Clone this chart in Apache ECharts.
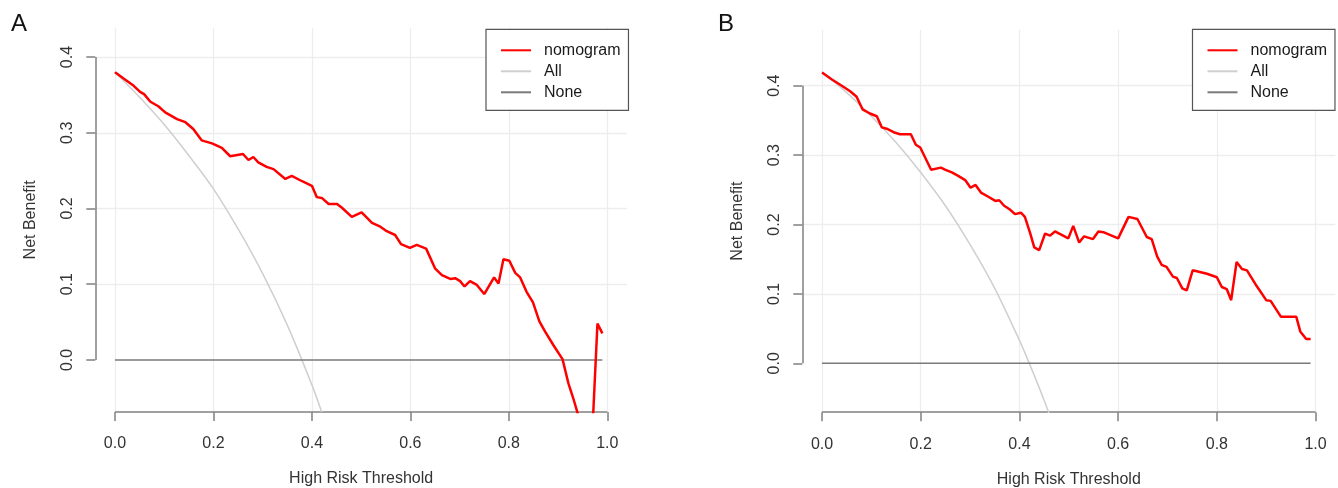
<!DOCTYPE html>
<html>
<head>
<meta charset="utf-8">
<script src="https://cdn.jsdelivr.net/npm/echarts@6/dist/echarts.min.js"></script>
<style>
  html, body { margin: 0; padding: 0; background: #fff; }
  #dca { width: 1338px; height: 488px; }
</style>
</head>
<body>
<div id="dca"></div>
<script>
// tick labels
const xTicks = [0, 0.2, 0.4, 0.6, 0.8, 1.0];
const yTicks = [0, 0.1, 0.2, 0.3, 0.4];

// panel A
const thrA = [0, 0.021, 0.038, 0.051, 0.059, 0.072, 0.088, 0.102, 0.126, 0.143,
  0.159, 0.176, 0.197, 0.217, 0.234, 0.26, 0.271, 0.281, 0.291, 0.308,
  0.322, 0.346, 0.359, 0.38, 0.40, 0.41, 0.42, 0.434, 0.451, 0.461,
  0.481, 0.501, 0.522, 0.539, 0.552, 0.569, 0.581, 0.599, 0.613, 0.632,
  0.650, 0.664, 0.681, 0.691, 0.701, 0.710, 0.721, 0.735, 0.750, 0.770,
  0.779, 0.789, 0.801, 0.813, 0.823, 0.836, 0.849, 0.862, 0.874, 0.890,
  0.909, 0.921, 0.931, 0.94, 0.95, 0.96, 0.97, 0.98, 0.99];
const nomogramA = [0.380, 0.370, 0.362, 0.354, 0.351, 0.341, 0.335, 0.327, 0.318, 0.314,
  0.305, 0.290, 0.286, 0.280, 0.269, 0.272, 0.264, 0.268, 0.261, 0.255,
  0.252, 0.239, 0.243, 0.236, 0.230, 0.215, 0.214, 0.206, 0.206, 0.201,
  0.189, 0.195, 0.181, 0.176, 0.170, 0.165, 0.153, 0.148, 0.152, 0.147,
  0.121, 0.112, 0.107, 0.108, 0.104, 0.097, 0.104, 0.099, 0.087, 0.109,
  0.101, 0.133, 0.131, 0.115, 0.109, 0.090, 0.076, 0.051, 0.037, 0.020,
  0.001, -0.031, -0.051, -0.071, -0.12, -0.14, -0.09, 0.048, 0.035];
const allThrA = [0, 0.05, 0.1, 0.15, 0.2, 0.25, 0.3, 0.35, 0.4, 0.42];
const allA = [0.38, 0.347, 0.311, 0.27, 0.226, 0.173, 0.114, 0.046, -0.033, -0.069];

// panel B
const thrB = [0, 0.020, 0.040, 0.057, 0.070, 0.082, 0.097, 0.111, 0.121, 0.131,
  0.145, 0.158, 0.180, 0.190, 0.199, 0.221, 0.241, 0.249, 0.263, 0.276,
  0.290, 0.301, 0.311, 0.322, 0.337, 0.351, 0.359, 0.369, 0.380, 0.391,
  0.403, 0.411, 0.422, 0.430, 0.440, 0.452, 0.462, 0.472, 0.499, 0.509,
  0.521, 0.531, 0.549, 0.560, 0.570, 0.600, 0.621, 0.639, 0.658, 0.668,
  0.679, 0.688, 0.698, 0.711, 0.719, 0.730, 0.739, 0.751, 0.780, 0.800,
  0.810, 0.820, 0.829, 0.840, 0.851, 0.861, 0.881, 0.900, 0.909, 0.930,
  0.961, 0.969, 0.981, 0.990];
const nomogramB = [0.419, 0.409, 0.400, 0.392, 0.384, 0.366, 0.360, 0.356, 0.340, 0.338,
  0.333, 0.330, 0.330, 0.315, 0.311, 0.279, 0.282, 0.279, 0.275, 0.270,
  0.264, 0.253, 0.257, 0.246, 0.240, 0.234, 0.235, 0.227, 0.222, 0.215,
  0.217, 0.211, 0.187, 0.167, 0.163, 0.187, 0.184, 0.190, 0.180, 0.198,
  0.174, 0.183, 0.179, 0.190, 0.189, 0.180, 0.211, 0.208, 0.182, 0.179,
  0.154, 0.142, 0.139, 0.125, 0.123, 0.108, 0.105, 0.134, 0.129, 0.124,
  0.110, 0.107, 0.091, 0.146, 0.136, 0.134, 0.111, 0.091, 0.090, 0.067,
  0.067, 0.046, 0.035, 0.035];
const allThrB = [0, 0.05, 0.1, 0.15, 0.2, 0.25, 0.3, 0.35, 0.4, 0.42, 0.44, 0.46];
const allB = [0.42, 0.39, 0.356, 0.318, 0.275, 0.227, 0.171, 0.108, 0.033, 0, -0.035, -0.072];

// treat none
const noneThr = [0, 0.99];
const noneNB = [0, 0];

const FONT = '"Liberation Sans", Arial, sans-serif';
const AXIS_GRAY = '#808080';
const GRID_GRAY = '#ededed';

const pairs = (xs, ys) => xs.map((x, i) => [x, ys[i]]);

const panels = [
  { grid: { left: 95.3, top: 27.7, width: 531.7, height: 384.3 }, yMin: -0.0688, yMax: 0.4388,
    nom: pairs(thrA, nomogramA), all: pairs(allThrA, allA), legendLeft: 486, letter: 'A', letterLeft: 11 },
  { grid: { left: 802.3, top: 29.9, width: 533, height: 382.3 }, yMin: -0.0704, yMax: 0.4804,
    nom: pairs(thrB, nomogramB), all: pairs(allThrB, allB), legendLeft: 1192.5, letter: 'B', letterLeft: 718 }
];
const xMin = -0.04, xMax = 1.04;

const option = {
  backgroundColor: '#fff',
  animation: false,
  title: [],
  legend: [],
  grid: [],
  xAxis: [],
  yAxis: [],
  series: []
};

panels.forEach((p, k) => {
  option.title.push({
    text: p.letter, left: p.letterLeft, top: 12, padding: 0,
    textStyle: { fontFamily: FONT, fontSize: 24, fontWeight: 'normal', color: '#111' }
  });
  // keep the plot box fixed; v6 would otherwise shrink it to fit the labels
  option.grid.push(Object.assign({ outerBoundsMode: 'none', containLabel: false }, p.grid));
  option.xAxis.push({
    gridIndex: k, type: 'value', min: xMin, max: xMax,
    name: 'High Risk Threshold', nameLocation: 'middle', nameGap: 59,
    nameTextStyle: { fontFamily: FONT, fontSize: 16, color: '#333' },
    axisLine: { show: false, onZero: false },
    axisTick: { show: true, customValues: xTicks, length: 9, lineStyle: { color: AXIS_GRAY, width: 1.5 } },
    axisLabel: { customValues: xTicks, margin: 24, fontFamily: FONT, fontSize: 16, color: '#333',
      formatter: v => v.toFixed(1) },
    splitLine: { show: false }
  });
  option.yAxis.push({
    gridIndex: k, type: 'value', min: p.yMin, max: p.yMax,
    name: 'Net Benefit', nameLocation: 'middle', nameGap: 57, nameRotate: 90,
    nameTextStyle: { fontFamily: FONT, fontSize: 16, color: '#333' },
    axisLine: { show: false, onZero: false },
    axisTick: { show: true, customValues: yTicks, length: 9, lineStyle: { color: AXIS_GRAY, width: 1.5 } },
    axisLabel: { customValues: yTicks, rotate: 90, margin: 20, fontFamily: FONT, fontSize: 16, color: '#333',
      formatter: v => v.toFixed(1) },
    splitLine: { show: false }
  });
  option.legend.push({
    left: p.legendLeft, top: 29.3, orient: 'vertical', selectedMode: false,
    data: ['nomogram', 'All', 'None'],
    backgroundColor: '#fff',
    borderColor: '#555', borderWidth: 1.2, borderRadius: 0,
    padding: [13, 8, 10, 14],
    itemWidth: 30, itemHeight: 14, itemGap: 5,
    itemStyle: { opacity: 0 },
    textStyle: { fontFamily: FONT, fontSize: 16, color: '#1a1a1a', padding: [0, 0, 0, 8] }
  });

  // background grid lines and the R-style axis lines
  option.series.push({
    name: 'guide' + k, type: 'line', xAxisIndex: k, yAxisIndex: k, data: [], z: 0,
    clip: false, silent: true,
    markLine: {
      z: 0, silent: true, symbol: 'none', label: { show: false }, animation: false,
      emphasis: { disabled: true },
      data: [
        ...xTicks.map(v => ({ xAxis: v, lineStyle: { color: GRID_GRAY, width: 1.3, type: 'solid' } })),
        ...yTicks.slice(1).map(v => ({ yAxis: v, lineStyle: { color: GRID_GRAY, width: 1.3, type: 'solid' } })),
        [{ coord: [xMin, yTicks[0]], lineStyle: { color: AXIS_GRAY, width: 1.5, type: 'solid' } },
         { coord: [xMin, yTicks[yTicks.length - 1]] }],
        [{ coord: [xTicks[0], p.yMin], lineStyle: { color: AXIS_GRAY, width: 1.5, type: 'solid' } },
         { coord: [xTicks[xTicks.length - 1], p.yMin] }]
      ]
    }
  });
  option.series.push({
    name: 'All', type: 'line', xAxisIndex: k, yAxisIndex: k, data: p.all, z: 2,
    symbol: 'none', smooth: 0.3, color: '#cfcfcf',
    lineStyle: { color: '#cfcfcf', width: 1.5 }
  });
  option.series.push({
    name: 'None', type: 'line', xAxisIndex: k, yAxisIndex: k, data: pairs(noneThr, noneNB), z: 3,
    symbol: 'none', color: '#7a7a7a',
    lineStyle: { color: '#7a7a7a', width: 1.5 }
  });
  option.series.push({
    name: 'nomogram', type: 'line', xAxisIndex: k, yAxisIndex: k, data: p.nom, z: 4,
    symbol: 'none', color: '#ff0000',
    lineStyle: { color: '#ff0000', width: 2.5 }
  });
});

let myChart = echarts.init(document.getElementById('dca'));
myChart.setOption(option);

window.onresize = function () {
  myChart.resize();
};
</script>
</body>
</html>
